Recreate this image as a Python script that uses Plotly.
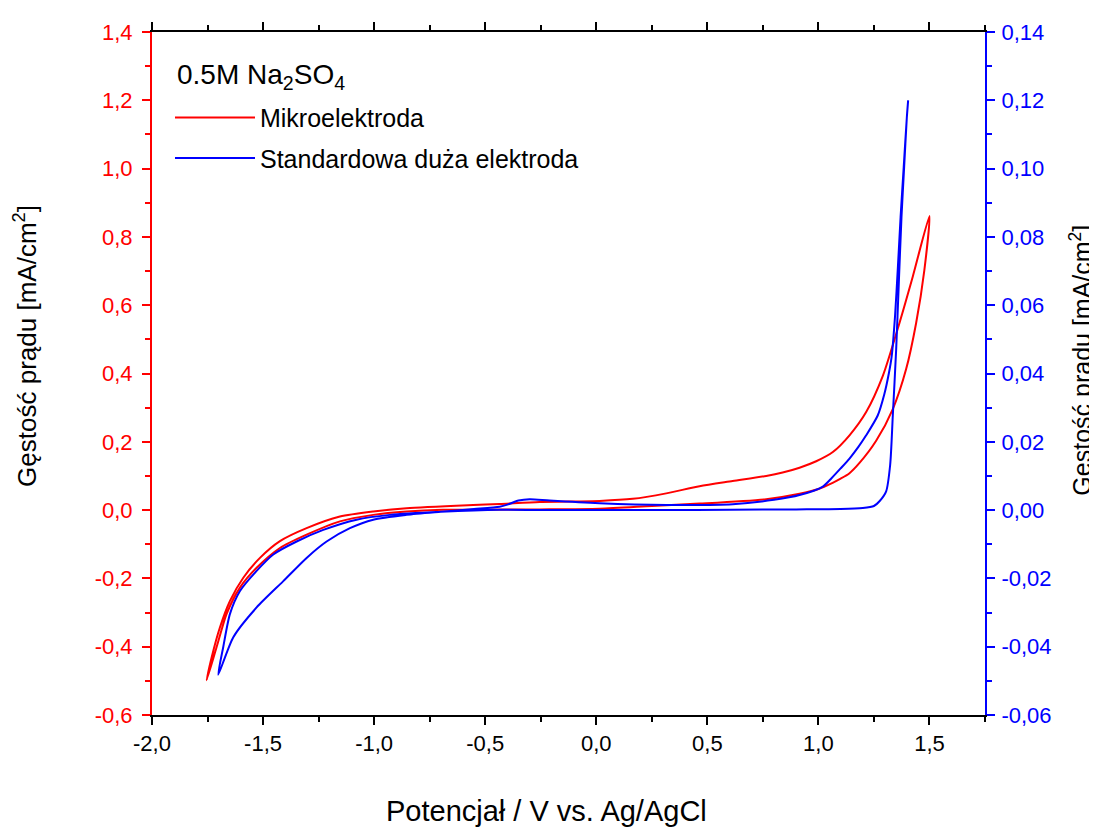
import plotly.graph_objects as go

# ---- Mikroelektroda (left axis, mA/cm2) ----
red_E = [-1.754, -1.709, -1.664, -1.604, -1.529, -1.424, -1.304, -1.154, -1.004, -0.854,
         -0.690, -0.554, -0.255, 0.015, 0.250, 0.465, 0.765, 0.915, 1.000, 1.064, 1.100, 1.140,
         1.185, 1.260, 1.335, 1.395, 1.440, 1.477, 1.500,
         1.425, 1.365, 1.290, 1.215, 1.140, 1.065, 0.990, 0.915, 0.839, 0.765, 0.614,
         0.465, 0.315, 0.164, 0.015, -0.255, -0.435, -0.554, -0.854, -1.004, -1.154,
         -1.304, -1.424, -1.514, -1.589, -1.649, -1.694, -1.731, -1.754]
red_J = [-0.498, -0.401, -0.304, -0.227, -0.169, -0.111, -0.072, -0.033, -0.014, -0.004,
         0.001, 0.001, 0.002, 0.004, 0.012, 0.019, 0.032, 0.048, 0.062, 0.080, 0.092, 0.108,
         0.138, 0.203, 0.296, 0.413, 0.548, 0.703, 0.861,
         0.684, 0.548, 0.393, 0.287, 0.219, 0.170, 0.143, 0.124, 0.110, 0.100, 0.085,
         0.070, 0.049, 0.033, 0.027, 0.024, 0.018, 0.015, 0.0055, -0.004, -0.019,
         -0.053, -0.091, -0.140, -0.198, -0.266, -0.343, -0.430, -0.498]

# ---- Standardowa duza elektroda (right axis, mA/cm2) ----
blue_E = [0.000, 0.300, 0.600, 0.900, 1.100, 1.200, 1.250, 1.275, 1.305, 1.323, 1.335,
          1.350, 1.362, 1.374, 1.386, 1.398, 1.404,
          1.398, 1.384, 1.370, 1.358, 1.345, 1.330, 1.317, 1.297, 1.267, 1.215, 1.180, 1.140,
          1.100, 1.060, 1.020, 0.915, 0.800, 0.614, 0.315, 0.015, -0.210, -0.300, -0.350, -0.400,
          -0.435, -0.550, -0.700, -0.854, -1.004, -1.109, -1.214, -1.304, -1.409,
          -1.529, -1.634, -1.702,
          -1.679, -1.649, -1.604, -1.529, -1.454, -1.349, -1.229, -1.079, -0.929,
          -0.700, -0.435, -0.200, 0.000]
blue_J = [0.0000, 0.0000, 0.0001, 0.0002, 0.0003, 0.0006, 0.0012, 0.0026, 0.0055, 0.0132, 0.0277,
          0.0470, 0.0665, 0.0858, 0.1004, 0.1149, 0.1200,
          0.1149, 0.1004, 0.0858, 0.0713, 0.0568, 0.0451, 0.0400, 0.0340, 0.0277, 0.0219, 0.0185, 0.0151,
          0.0122, 0.0094, 0.0069, 0.0044, 0.0030, 0.0017, 0.0015, 0.0020, 0.0028, 0.0032, 0.0028, 0.0016,
          0.0010, 0.0003, -0.0005, -0.0014, -0.0028, -0.0053, -0.0092, -0.0140, -0.0208,
          -0.0285, -0.0372, -0.0482,
          -0.0400, -0.0304, -0.0237, -0.0178, -0.0130, -0.0092, -0.0058, -0.0028, -0.0014,
          -0.0005, 0.0001, 0.0000, 0.0000]

# ---- ticks ----
x_ticks = [-2.0, -1.5, -1.0, -0.5, 0.0, 0.5, 1.0, 1.5]
x_labels = ["-2,0", "-1,5", "-1,0", "-0,5", "0,0", "0,5", "1,0", "1,5"]
yl_ticks = [-0.6, -0.4, -0.2, 0.0, 0.2, 0.4, 0.6, 0.8, 1.0, 1.2, 1.4]
yl_labels = ["-0,6", "-0,4", "-0,2", "0,0", "0,2", "0,4", "0,6", "0,8", "1,0", "1,2", "1,4"]
yr_ticks = [-0.06, -0.04, -0.02, 0.0, 0.02, 0.04, 0.06, 0.08, 0.10, 0.12, 0.14]
yr_labels = ["-0,06", "-0,04", "-0,02", "0,00", "0,02", "0,04", "0,06", "0,08", "0,10", "0,12", "0,14"]

RED = "#FF0000"
BLUE = "#0000FF"
FONT = "Liberation Sans, Arial, sans-serif"

fig = go.Figure()
fig.add_trace(go.Scatter(x=red_E, y=red_J, mode="lines", name="Mikroelektroda",
                         line=dict(color=RED, width=2, shape="spline", smoothing=0.7),
                         legendgroup="a", yaxis="y"))
fig.add_trace(go.Scatter(x=blue_E, y=blue_J, mode="lines", name="Standardowa duża elektroda",
                         line=dict(color=BLUE, width=2, shape="spline", smoothing=0.7),
                         legendgroup="b", yaxis="y2"))

# page body adds an 8 px margin, so the figure is offset and sized a bit smaller
fig.update_layout(
    width=1089, height=820,
    margin=dict(l=144, r=112, t=19, b=113),
    paper_bgcolor="white", plot_bgcolor="white",
    font=dict(family=FONT, color="black"),
    showlegend=True,
    legend=dict(x=0.0216, y=0.908, xanchor="left", yanchor="top",
                bgcolor="rgba(0,0,0,0)", borderwidth=0, itemwidth=80,
                font=dict(size=25, family=FONT), tracegroupgap=5),
    xaxis=dict(range=[-2.0, 1.75], tickmode="array", tickvals=x_ticks, ticktext=x_labels,
               ticks="outside", ticklen=8, tickwidth=2, tickcolor="black",
               showline=True, linecolor="black", linewidth=2, mirror="ticks",
               showgrid=False, zeroline=False, tickfont=dict(size=22, color="black"),
               minor=dict(tickmode="linear", tick0=-2.0, dtick=0.25, ticks="outside",
                          ticklen=5, tickwidth=2, tickcolor="black", showgrid=False)),
    yaxis=dict(range=[-0.6, 1.4], tickmode="array", tickvals=yl_ticks, ticktext=yl_labels,
               ticks="outside", ticklen=8, tickwidth=2, tickcolor=RED,
               showline=True, linecolor=RED, linewidth=2, ticklabelstandoff=5,
               showgrid=False, zeroline=False, tickfont=dict(size=22, color=RED),
               minor=dict(tickmode="linear", tick0=-0.6, dtick=0.1, ticks="outside",
                          ticklen=5, tickwidth=2, tickcolor=RED, showgrid=False)),
    yaxis2=dict(range=[-0.06, 0.14], overlaying="y", side="right", anchor="x",
                tickmode="array", tickvals=yr_ticks, ticktext=yr_labels,
                ticks="outside", ticklen=8, tickwidth=2, tickcolor=BLUE,
                showline=True, linecolor=BLUE, linewidth=2, ticklabelstandoff=2,
                showgrid=False, zeroline=False, tickfont=dict(size=22, color=BLUE),
                minor=dict(tickmode="linear", tick0=-0.06, dtick=0.01, ticks="outside",
                           ticklen=5, tickwidth=2, tickcolor=BLUE, showgrid=False)),
    annotations=[
        dict(text="0.5M Na<sub>2</sub>SO<sub>4</sub>", xref="paper", yref="paper",
             x=0.0276, y=0.9346, xanchor="left", yanchor="middle", showarrow=False,
             font=dict(size=28, family=FONT, color="black")),
        dict(text="Potencjał / V vs. Ag/AgCl", xref="paper", yref="paper",
             x=0.474, y=-0.141, xanchor="center", yanchor="middle", showarrow=False,
             font=dict(size=29, family=FONT, color="black")),
        dict(text="Gęstość prądu [mA/cm<sup>2</sup>]", xref="paper", yref="paper",
             x=-0.152, y=0.541, xanchor="center", yanchor="middle", showarrow=False,
             textangle=-90, font=dict(size=26, family=FONT, color="black")),
        dict(text="Gęstość prądu [mA/cm<sup>2</sup>]", xref="paper", yref="paper",
             x=1.115, y=0.520, xanchor="center", yanchor="middle", showarrow=False,
             textangle=-90, font=dict(size=25, family=FONT, color="black")),
    ],
)

fig.write_html("out.html")
